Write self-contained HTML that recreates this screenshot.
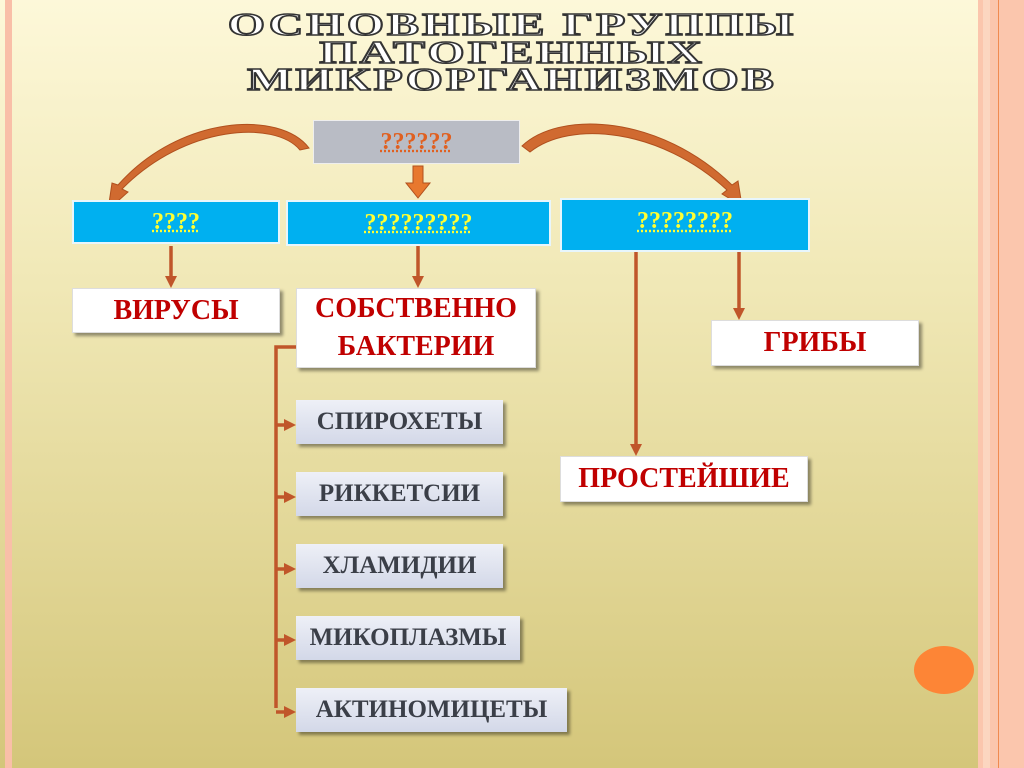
<!DOCTYPE html>
<html><head><meta charset="utf-8"><style>
html,body{margin:0;padding:0}
body{width:1024px;height:768px;overflow:hidden;position:relative;
background:linear-gradient(to bottom,#fdf8d9 0%,#f1e9b8 35%,#e2d797 70%,#d4c67a 100%);
font-family:"Liberation Serif",serif}
.b{position:absolute;box-sizing:border-box;display:flex;align-items:center;justify-content:center;text-align:center;font-weight:bold}
.w{background:#fff;color:#c00000;font-size:28px;line-height:38px;box-shadow:3px 3px 3px rgba(0,0,0,.4);border:1px solid #ddd}
.s{background:linear-gradient(#eef0f7,#d3d8e8);color:#3b3f48;font-size:25px;box-shadow:3px 3px 3px rgba(0,0,0,.4)}
.bl{background:#00b0f0;color:#ffff33;font-size:24px;border:2px solid #e8f6fc;text-decoration:underline dotted;}
.t{position:absolute;left:0;width:1024px;text-align:center;font-family:"Liberation Serif",serif;font-weight:bold;font-size:32px;line-height:28px;color:#fff;-webkit-text-stroke:1.5px #333;letter-spacing:2px}
</style></head><body>
<div style="position:absolute;left:5px;top:0;width:7px;height:768px;background:#f9bfa8"></div>
<div style="position:absolute;left:978px;top:0;width:46px;height:768px;background:#fbc6ad"></div>
<div style="position:absolute;left:983px;top:0;width:7px;height:768px;background:#fcd6c0"></div>
<div style="position:absolute;left:998px;top:0;width:1px;height:768px;background:#f08a50"></div>

<div class="t" style="top:10px;transform:scaleX(1.5)">ОСНОВНЫЕ ГРУППЫ</div>
<div class="t" style="top:38px;transform:scaleX(1.5)">ПАТОГЕННЫХ</div>
<div class="t" style="top:65px;transform:scaleX(1.5)">МИКРОРГАНИЗМОВ</div>

<svg style="position:absolute;left:0;top:0" width="1024" height="768">
<defs><marker id="a" markerUnits="userSpaceOnUse" markerWidth="12" markerHeight="12" refX="6" refY="6" orient="auto"><path d="M0,0L12,6L0,12z" fill="#c0562a"/></marker></defs>
<g stroke="#c0562a" stroke-width="3.5" fill="none">
<line x1="171" y1="246" x2="171" y2="282" marker-end="url(#a)"/>
<line x1="418" y1="246" x2="418" y2="282" marker-end="url(#a)"/>
<line x1="636" y1="252" x2="636" y2="450" marker-end="url(#a)"/>
<line x1="739" y1="252" x2="739" y2="314" marker-end="url(#a)"/>
<polyline points="296,347 276,347 276,708"/>
<line x1="276" y1="425" x2="290" y2="425" marker-end="url(#a)"/>
<line x1="276" y1="497" x2="290" y2="497" marker-end="url(#a)"/>
<line x1="276" y1="569" x2="290" y2="569" marker-end="url(#a)"/>
<line x1="276" y1="640" x2="290" y2="640" marker-end="url(#a)"/>
<line x1="276" y1="712" x2="290" y2="712" marker-end="url(#a)"/>
</g>
<path d="M309,148 C280,110 180,115 118,185 L112,183 L108,210 L128,192 L122,189 C185,125 275,120 300,150 Z" fill="#d06a30" stroke="#b0501e" stroke-width="1"/>
<path d="M522,146 C560,110 660,115 732,185 L738,181 L742,206 L722,194 L727,190 C660,128 570,120 530,152 Z" fill="#d06a30" stroke="#b0501e" stroke-width="1"/>
<path d="M413,166 L423,166 L423,183 L430,183 L418,198 L406,183 L413,183 Z" fill="#e8782e" stroke="#b0501e"/>
<ellipse cx="944" cy="670" rx="30" ry="24" fill="#fd8536"/>
</svg>

<div class="b" style="left:313px;top:120px;width:207px;height:44px;background:#b9bcc5;color:#e06020;font-size:24px;border:1px solid #eee;text-decoration:underline dotted">??????</div>
<div class="b bl" style="left:72px;top:200px;width:208px;height:44px">????</div>
<div class="b bl" style="left:286px;top:200px;width:265px;height:46px">?????????</div>
<div class="b bl" style="left:560px;top:198px;width:250px;height:54px;align-items:flex-start;padding-top:8px">????????</div>

<div class="b w" style="left:72px;top:288px;width:208px;height:45px">ВИРУСЫ</div>
<div class="b w" style="left:296px;top:288px;width:240px;height:80px">СОБСТВЕННО<br>БАКТЕРИИ</div>
<div class="b w" style="left:711px;top:320px;width:208px;height:46px">ГРИБЫ</div>
<div class="b w" style="left:560px;top:456px;width:248px;height:46px">ПРОСТЕЙШИЕ</div>

<div class="b s" style="left:296px;top:400px;width:207px;height:44px">СПИРОХЕТЫ</div>
<div class="b s" style="left:296px;top:472px;width:207px;height:44px">РИККЕТСИИ</div>
<div class="b s" style="left:296px;top:544px;width:207px;height:44px">ХЛАМИДИИ</div>
<div class="b s" style="left:296px;top:616px;width:224px;height:44px">МИКОПЛАЗМЫ</div>
<div class="b s" style="left:296px;top:688px;width:271px;height:44px">АКТИНОМИЦЕТЫ</div>
</body></html>
